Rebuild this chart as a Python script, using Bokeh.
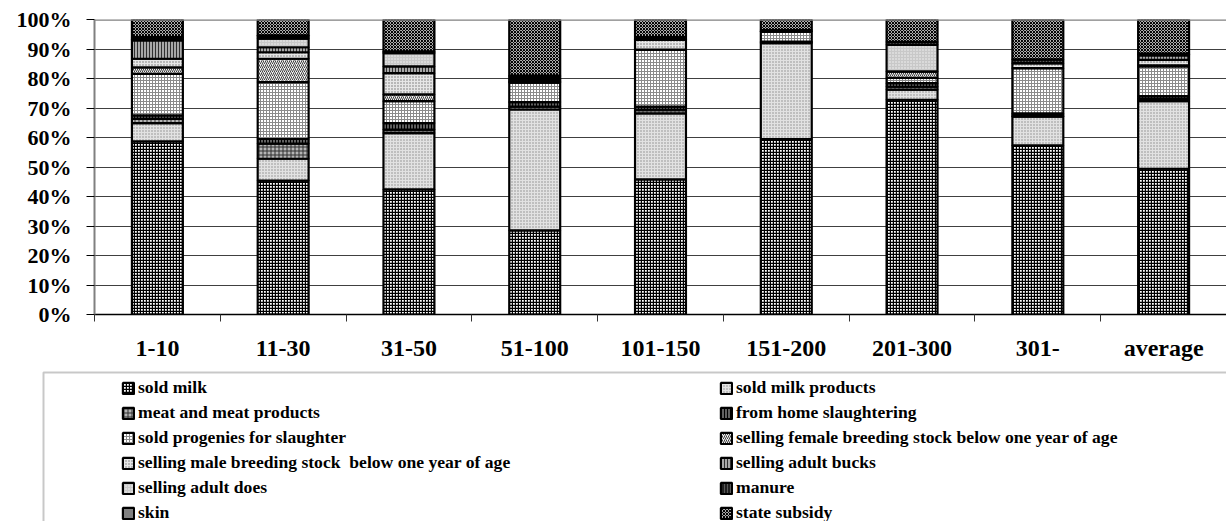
from bokeh.plotting import figure
from bokeh.layouts import column
from bokeh.models import (ColumnDataSource, FixedTicker, Legend, LegendItem, BoxAnnotation,
                          Range1d, PrintfTickFormatter, Span)
from bokeh.embed import file_html
from bokeh.resources import INLINE

categories = ["1-10", "11-30", "31-50", "51-100", "101-150", "151-200", "201-300", "301-", "average"]

sold_milk          = [58.7, 45.4, 42.4, 28.5, 45.8, 59.5, 72.8, 57.3, 49.4]
sold_milk_products = [6.2, 7.4, 19.1, 41.0, 22.4, 32.5, 3.4, 9.8, 22.9]
meat_products      = [1.4, 5.1, 1.2, 1.0, 1.2, 0.3, 1.0, 0.5, 0.8]
home_slaughtering  = [1.2, 1.6, 2.2, 1.5, 1.1, 0.2, 1.2, 0.6, 0.9]
progenies          = [14.1, 19.3, 7.4, 6.6, 19.3, 3.5, 1.8, 15.3, 10.1]
female_stock       = [2.2, 7.9, 2.3, 0.2, 0.0, 0.0, 2.2, 0.0, 0.4]
male_stock         = [2.9, 2.2, 7.2, 0.2, 3.4, 0.0, 0.0, 1.7, 1.8]
adult_bucks        = [6.2, 1.7, 2.3, 0.5, 0.0, 0.0, 0.0, 0.0, 1.5]
adult_does         = [0.3, 2.9, 4.5, 0.5, 0.0, 0.0, 9.0, 0.0, 0.3]
manure             = [0.5, 0.6, 0.3, 0.6, 0.5, 0.4, 1.0, 1.3, 0.3]
skin               = [0.3, 0.5, 0.3, 0.4, 0.3, 0.0, 0.0, 0.0, 0.0]
state_subsidy      = [6.0, 5.4, 10.8, 19.0, 6.0, 3.6, 7.6, 13.5, 11.6]

series_labels = [
    "sold milk", "sold milk products", "meat and meat products", "from home slaughtering",
    "sold progenies for slaughter", "selling female breeding stock below one year of age",
    "selling male breeding stock  below one year of age", "selling adult bucks",
    "selling adult does", "manure", "skin", "state subsidy",
]
series_values = [sold_milk, sold_milk_products, meat_products, home_slaughtering, progenies,
                 female_stock, male_stock, adult_bucks, adult_does, manure, skin, state_subsidy]
y_ticks = [0, 10, 20, 30, 40, 50, 60, 70, 80, 90, 100]

keys = ["s%d" % i for i in range(len(series_values))]
data = {"x": [i + 0.5 for i in range(len(categories))]}
for k, v in zip(keys, series_values):
    data[k] = v
source = ColumnDataSource(data)

fills = ["#ffffff", "#e2e2e2", "#b4b4b4", "#606060", "#ffffff", "#f0f0f0",
         "#e6e6e6", "#a8a8a8", "#c8c8c8", "#202020", "#808080", "#ffffff"]
hatches = ["cross", "dot", "cross", "vertical_line", "cross", "right_diagonal_line",
           "dot", "vertical_line", "dot", "vertical_line", "blank", "diagonal_cross"]
hcolors = ["#000000", "#8a8a8a", "#303030", "#000000", "#8a8a8a", "#404040",
           "#707070", "#303030", "#f4f4f4", "#5a5a5a", "#808080", "#000000"]
hscales = [3, 3, 4, 3, 3, 4, 3, 3, 3, 3, 3, 3]
hweights = [1.4, 1, 1, 1, 1, 1, 1, 1, 1, 1, 1, 1.2]
style = dict(fill_color=fills, hatch_pattern=hatches, hatch_color=hcolors,
             hatch_scale=hscales, hatch_weight=hweights, line_color="black", line_width=2.2)

FONT = "Liberation Serif"
W = 1226
H_CHART = 366
H_LEG = 155

# ---------------- chart ----------------
p = figure(width=W, height=H_CHART, x_range=Range1d(0, 9.0), y_range=Range1d(0, 100),
           output_backend="svg", toolbar_location=None,
           min_border_left=94, min_border_top=19, min_border_right=0, min_border_bottom=52)
p.outline_line_color = None
p.frame_align = False

p.vbar_stack(keys, x="x", width=0.405, source=source, **style)

p.yaxis.ticker = FixedTicker(ticks=y_ticks)
p.yaxis.formatter = PrintfTickFormatter(format="%d%%")
p.yaxis.axis_line_color = "#808080"
p.yaxis.axis_line_width = 2
p.yaxis.major_tick_line_color = "black"
p.yaxis.major_tick_out = 8
p.yaxis.major_tick_in = 0
p.yaxis.minor_tick_line_color = None
p.yaxis.major_label_standoff = 15
p.yaxis.major_label_text_font = FONT
p.yaxis.major_label_text_font_style = "bold"
p.yaxis.major_label_text_font_size = "22px"
p.yaxis.major_label_text_color = "black"

centers = data["x"]
p.xaxis.ticker = FixedTicker(ticks=centers, minor_ticks=list(range(len(categories) + 1)))
p.xaxis.major_label_overrides = {c: lab for c, lab in zip(centers, categories)}
p.xaxis.axis_line_color = "black"
p.xaxis.axis_line_width = 1.5
p.xaxis.major_tick_out = 0
p.xaxis.major_tick_in = 0
p.xaxis.minor_tick_out = 7
p.xaxis.minor_tick_in = 0
p.xaxis.minor_tick_line_color = "#333333"
p.xaxis.major_label_standoff = 13
p.xaxis.major_label_text_font = FONT
p.xaxis.major_label_text_font_style = "bold"
p.xaxis.major_label_text_font_size = "24px"
p.xaxis.major_label_text_color = "black"

p.xgrid.grid_line_color = None
p.ygrid.ticker = FixedTicker(ticks=y_ticks)
p.ygrid.grid_line_color = "#404040"
p.ygrid.grid_line_width = 1
p.add_layout(Span(location=100, dimension="width", line_color="#808080", line_width=2.5))

# ---------------- legend panel ----------------
q = figure(width=W, height=H_LEG, x_range=Range1d(0, W), y_range=Range1d(H_LEG, 0),
           output_backend="svg", toolbar_location=None,
           x_axis_location=None, y_axis_location=None,
           min_border_left=0, min_border_right=0, min_border_top=0, min_border_bottom=0)
q.outline_line_color = None
q.frame_align = False
q.xgrid.grid_line_color = None
q.ygrid.grid_line_color = None

# swatch carriers for the legend: one undrawable (NaN) row, so only the legend shows them
swatch = ColumnDataSource({"x": [float("nan")], **{k: [float("nan")] for k in keys}})
dummies = q.vbar_stack(keys, x="x", width=1, source=swatch, **style)

q.add_layout(BoxAnnotation(left=43, right=W + 200, top=6, bottom=H_LEG + 200,
                           fill_alpha=0, line_color="#4a4a4a", line_width=2))

items = [LegendItem(label=lab, renderers=[r]) for lab, r in zip(series_labels, dummies)]
legend = Legend(items=items, location=(121, -2), orientation="horizontal", ncols=2,
                glyph_width=14, glyph_height=14, label_standoff=3, label_width=577,
                label_height=20, spacing=4, padding=0, margin=0,
                border_line_color=None, background_fill_alpha=0,
                label_text_font=FONT, label_text_font_style="bold",
                label_text_font_size="17.6px", label_text_color="black")
q.add_layout(legend, "center")

layout = column(p, q, spacing=0)
open("out.html", "w").write(file_html(layout, INLINE))
